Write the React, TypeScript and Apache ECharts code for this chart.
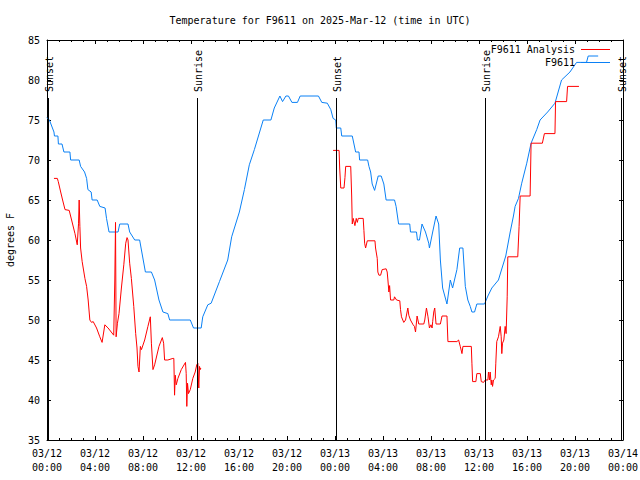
import React, { useEffect, useRef } from "react";
import * as echarts from "echarts";

const FONT = "'DejaVu Sans Mono', 'Liberation Mono', monospace";

const titleText = "Temperature for F9611 on 2025-Mar-12 (time in UTC)";
const seriesNames = ["F9611 Analysis", "F9611"];
const seriesColors = ["#ff0000", "#0a80f5"];
const yTicks = { min: 35, max: 85, step: 5 };
const xHours = { min: 0, max: 48, step: 4 };
const dayLabels = ["03/12", "03/13", "03/14"];

// hours since 2025-03-12 00:00 UTC, degrees F
const analysisPart1: [number, number][] = [
  [0.58, 67.7], [0.86, 67.7], [0.94, 67.3], [1.14, 66], [1.3, 65], [1.5, 63.8], [1.85, 63.7], [2.05, 62.5],
  [2.33, 60.8], [2.52, 59.4], [2.63, 62.1], [2.68, 65], [2.74, 61.7], [2.8, 59], [2.93, 57.3], [3.16, 55.2],
  [3.3, 54.2], [3.43, 52.5], [3.57, 50], [3.71, 49.7], [3.85, 49.8], [4.13, 49], [4.4, 47.9], [4.59, 47.2],
  [4.82, 49.4], [5.09, 49], [5.56, 48.1], [5.65, 55], [5.71, 62.2], [5.76, 47.9], [5.87, 49.6], [6.0, 50.8],
  [6.2, 54], [6.4, 56.9], [6.56, 59.6], [6.67, 60.3], [6.75, 60], [6.89, 57.1], [7.03, 55.2], [7.23, 51.7],
  [7.39, 48.3], [7.5, 46.5], [7.58, 44.2], [7.67, 43.5], [7.78, 46.7], [7.87, 46.3], [8.14, 47.5], [8.41, 49.2],
  [8.61, 50.4], [8.7, 47.1], [8.83, 43.8], [8.97, 44.4], [9.33, 46.7], [9.61, 47.8], [9.72, 47.1], [9.8, 45],
  [10.07, 45], [10.49, 45.2], [10.57, 45.2], [10.63, 40.6], [10.69, 43.1], [10.77, 41.9], [10.91, 42.7],
  [11.19, 43.8], [11.54, 44.7], [11.6, 43.3], [11.65, 39.2], [11.71, 42.1], [11.79, 40.8], [11.94, 41.3],
  [12.15, 42.7], [12.35, 43.5], [12.48, 44.4], [12.57, 44.6], [12.62, 42.5], [12.65, 41.5], [12.71, 44.2],
  [12.77, 43.8], [12.82, 44],
];

const analysisPart2: [number, number][] = [
  [23.84, 71.2], [24.34, 71.2], [24.39, 69], [24.48, 66.5], [24.75, 66.5], [24.83, 67.8], [24.89, 69.2],
  [25.31, 69.2], [25.39, 65.5], [25.44, 62], [25.52, 62.7], [25.66, 61.8], [25.77, 62.7], [25.86, 62.2],
  [25.94, 62.7], [26.35, 62.7], [26.41, 61.2], [26.47, 59.6], [26.55, 59], [26.69, 59.9], [27.33, 59.9],
  [27.38, 59], [27.52, 57.7], [27.57, 56], [27.66, 55.6], [27.8, 55.6], [27.93, 56.3], [28.26, 56.4],
  [28.35, 56], [28.41, 55], [28.49, 53.5], [28.55, 54.3], [28.63, 52.5], [28.9, 52.5], [28.96, 52.9],
  [29.13, 52.5], [29.4, 52.4], [29.46, 51.3], [29.54, 50.4], [29.73, 49.7], [29.88, 50], [30.07, 51.5],
  [30.15, 50.6], [30.29, 50], [30.51, 49.4], [30.62, 49.2], [30.71, 48.5], [30.84, 50.5], [30.98, 49.5],
  [31.4, 49.5], [31.48, 50], [31.62, 51.5], [31.75, 50.4], [31.87, 49], [32.0, 49.4], [32.09, 49],
  [32.14, 49.8], [32.23, 51], [32.31, 51.5], [32.42, 49.5], [32.78, 49.5], [32.92, 50.5], [33.33, 50.5],
  [33.41, 47.3], [34.16, 47.3], [34.3, 47.5], [34.44, 46.7], [34.58, 45.8], [34.66, 46.7], [35.36, 46.7],
  [35.41, 44.6], [35.47, 42.3], [35.74, 42.3], [35.82, 43.3], [36.11, 43.3], [36.19, 42.3], [36.38, 42.2],
  [36.52, 42.5], [36.74, 42.5], [36.79, 43.5], [36.88, 42.5], [36.93, 43.5], [37.02, 41.9], [37.07, 42.5],
  [37.13, 41.7], [37.21, 42.5], [37.35, 42.7], [37.4, 44.6], [37.48, 47.3], [37.62, 47.9], [37.77, 49.2],
  [37.85, 47.9], [37.9, 45.8], [37.96, 47.1], [38.07, 47.5], [38.18, 49.2], [38.26, 48.3], [38.35, 52.9],
  [38.4, 57.9], [39.23, 57.9], [39.34, 61.7], [39.43, 65.5], [40.26, 65.5], [40.34, 72.1], [41.28, 72.1],
  [41.45, 73.3], [42.33, 73.3], [42.38, 77.3], [43.3, 77.3], [43.38, 79.2], [44.33, 79.2],
];

const observedTemps: [number, number][] = [
  [0, 75.3], [0.2, 75], [0.58, 73.5], [0.62, 73], [0.91, 73], [0.95, 72], [1.25, 72], [1.41, 71], [1.91, 71],
  [1.97, 70], [2.68, 70], [2.8, 69.2], [3.13, 68.5], [3.3, 67.7], [3.41, 66.3], [3.68, 66], [3.76, 65],
  [4.18, 65], [4.4, 64.2], [4.84, 64], [4.96, 62.7], [5.17, 61], [5.92, 61], [6.06, 62], [6.75, 62], [6.89, 61],
  [7.31, 60], [7.72, 60], [8.2, 56], [8.7, 56], [8.97, 55], [9.33, 52.5], [9.66, 51], [10.07, 50.8], [10.22, 50],
  [11.94, 50], [12.21, 49], [12.85, 49], [12.98, 50.4], [13.4, 51.9], [13.68, 52.1], [14.37, 54.8],
  [15.06, 57.5], [15.39, 60.4], [16.03, 63.5], [16.45, 66.3], [16.86, 69.4], [17.28, 71.3], [18.02, 75],
  [18.66, 75], [18.94, 76.5], [19.41, 78], [19.63, 77.3], [19.91, 78], [20.12, 78], [20.41, 77.2],
  [20.87, 77.2], [21.1, 78], [22.62, 78], [22.9, 77.2], [23.36, 77.1], [23.65, 76.3], [23.84, 75.2],
  [24.06, 75], [24.11, 74], [24.48, 74], [24.56, 73], [25.44, 73], [25.58, 72], [25.72, 71], [26.0, 71],
  [26.05, 70], [26.72, 70], [26.83, 69.2], [26.97, 68.5], [27.1, 67], [27.3, 66.2], [27.6, 68], [27.85, 68],
  [28.07, 67], [28.26, 65], [28.96, 65], [29.09, 64.2], [29.3, 62], [30.23, 62], [30.29, 61], [30.79, 61],
  [30.87, 60], [31.04, 60], [31.25, 62], [31.54, 61], [31.81, 59.6], [31.87, 59], [32.14, 61], [32.42, 63],
  [32.64, 62], [32.78, 57.5], [32.97, 54], [33.33, 52], [33.61, 55], [33.8, 54], [34.16, 56.3], [34.39, 59],
  [34.66, 59], [34.86, 54.2], [35.07, 52.5], [35.27, 51.7], [35.41, 51], [35.63, 51], [35.82, 52],
  [36.46, 52], [36.74, 53], [37.07, 54], [37.62, 55], [37.82, 56], [38.23, 58], [38.6, 61], [38.87, 63],
  [39.01, 64.2], [39.29, 65.2], [39.56, 67.1], [39.98, 69.6], [40.34, 72.1], [40.81, 73.8], [41.09, 75],
  [41.72, 76], [42.33, 77.1], [42.88, 80], [43.58, 81], [44.13, 82.2], [44.96, 82.2], [45.1, 83], [45.93, 83],
];

const sunEventHours = [0.12, 12.47, 24.08, 36.47, 47.82];
const sunEventLabels = ["Sunset", "Sunrise", "Sunset", "Sunrise", "Sunset"];

function xLabel(v: number): string {
  const day = dayLabels[Math.floor(v / 24)] ?? dayLabels[dayLabels.length - 1];
  const h = String(v % 24).padStart(2, "0");
  return `${day}\n${h}:00`;
}

export default function App() {
  const ref = useRef<HTMLDivElement>(null);

  useEffect(() => {
    if (!ref.current) return;
    const chart = echarts.init(ref.current, null, { renderer: "svg" });
    const axisLine = { show: true, onZero: false, lineStyle: { color: "#000", width: 1 } };
    const tick = { show: true, inside: true, length: 4, lineStyle: { color: "#000", width: 1 } };
    const minor = { show: true, splitNumber: 4, length: 2, lineStyle: { color: "#000", width: 1 } };
    const labelStyle = { color: "#000", fontFamily: FONT, fontSize: 10 };

    const xBase = { type: "value", min: xHours.min, max: xHours.max, interval: xHours.step, splitLine: { show: false }, axisLine, axisTick: tick, minorTick: minor };
    const yBase = { type: "value", min: yTicks.min, max: yTicks.max, interval: yTicks.step, splitLine: { show: false }, axisLine, axisTick: tick };

    // gnuplot-style key: text right-aligned, line sample to its right
    const keyRows = [49, 62];
    const legendItems: any[] = [];
    seriesNames.forEach((name, i) => {
      legendItems.push({
        id: `key-text-${i}`,
        type: "text",
        x: 575,
        y: keyRows[i],
        z: 100,
        style: { text: name, fill: "#000", font: `10px ${FONT}`, align: "right", verticalAlign: "middle" },
      });
      legendItems.push({
        id: `key-line-${i}`,
        type: "rect",
        z: 100,
        shape: { x: 581, y: keyRows[i], width: 29, height: 1 },
        style: { fill: seriesColors[i], stroke: null },
      });
    });

    chart.setOption({
      animation: false,
      backgroundColor: "#fff",
      title: {
        text: titleText,
        left: "center",
        top: 10,
        textStyle: { ...labelStyle, fontWeight: "normal" },
      },
      graphic: { elements: legendItems },
      grid: { left: 47, right: 17, top: 40, bottom: 40, outerBoundsMode: "none", containLabel: false },
      xAxis: [
        { ...xBase, position: "bottom", axisLabel: { ...labelStyle, margin: 6, lineHeight: 14, formatter: xLabel } },
        { ...xBase, position: "top", axisLabel: { show: false } },
      ],
      yAxis: [
        {
          ...yBase,
          position: "left",
          axisLabel: { ...labelStyle, margin: 7 },
          name: "degrees F",
          nameLocation: "middle",
          nameGap: 32,
          nameRotate: 90,
          nameTextStyle: { ...labelStyle },
        },
        { ...yBase, position: "right", axisLabel: { show: false } },
      ],
      series: [
        {
          name: seriesNames[0],
          type: "line",
          symbol: "none",
          color: seriesColors[0],
          lineStyle: { color: seriesColors[0], width: 1 },
          data: [...analysisPart1, [18, "-"], ...analysisPart2],
          connectNulls: false,
          z: 3,
        },
        {
          name: seriesNames[1],
          type: "line",
          symbol: "none",
          color: seriesColors[1],
          lineStyle: { color: seriesColors[1], width: 1 },
          data: observedTemps,
          z: 2,
        },
        {
          type: "custom",
          clip: false,
          silent: true,
          encode: { x: 0, y: 1 },
          data: sunEventHours.map((t) => [t, yTicks.min]),
          renderItem: (params: any, api: any) => {
            const t = api.value(0);
            const bottom = api.coord([t, yTicks.min]);
            const top = api.coord([t, yTicks.max]);
            const x = Math.round(bottom[0]) + 0.5;
            return {
              type: "group",
              children: [
                {
                  type: "line",
                  shape: { x1: x, y1: top[1] + 58, x2: x, y2: bottom[1] },
                  style: { stroke: "#000", lineWidth: 1 },
                },
                {
                  type: "text",
                  x: x + 1,
                  y: top[1] + 52,
                  rotation: Math.PI / 2,
                  style: {
                    text: sunEventLabels[params.dataIndex],
                    fill: "#000",
                    font: `10px ${FONT}`,
                    align: "left",
                    verticalAlign: "middle",
                  },
                },
              ],
            };
          },
          z: 4,
        },
      ],
    });
    return () => chart.dispose();
  }, []);

  return (
    <div
      ref={ref}
      style={{ position: "absolute", left: 0, top: 0, width: 640, height: 480, background: "#fff" }}
    />
  );
}
